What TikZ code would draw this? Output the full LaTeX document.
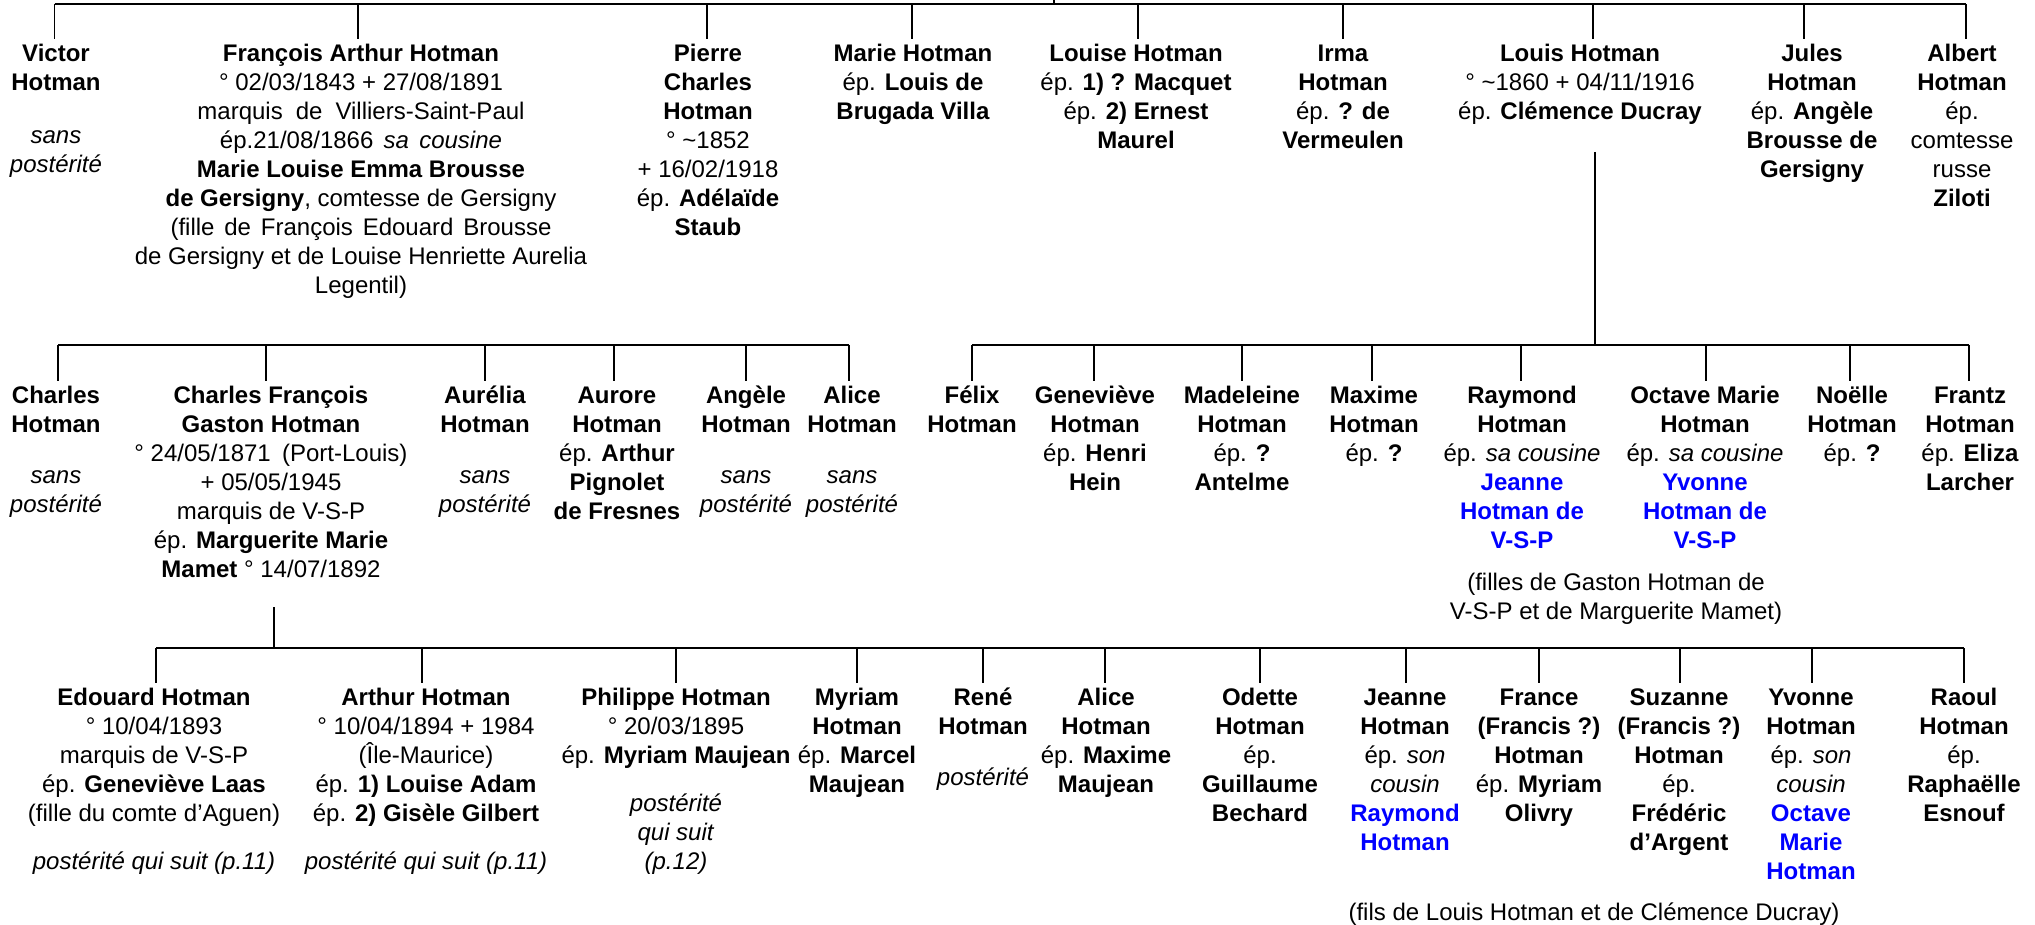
\documentclass[tikz,border=0pt]{standalone}
\usepackage{fontspec}
\setmainfont{Liberation Sans}
\definecolor{vblue}{RGB}{0,0,255}
\newcommand{\bl}[1]{\textcolor{vblue}{\textbf{#1}}}
\newcommand{\wsp}[1]{\hspace*{#1}}
\begin{document}
\begin{tikzpicture}[x=0.5pt,y=-0.5pt,
  pers/.style={align=center, anchor=north, inner xsep=0pt, inner ysep=1pt, outer sep=0pt, font=\fontsize{12}{14.5}\selectfont},
  barline/.style={line width=1.35pt},
  dropline/.style={line width=0.9pt}]
\useasboundingbox (0,0) rectangle (2035,925);

% ---------- Row 1 ----------
\node[pers] (r1a) at (56,39) {\strut\textbf{Victor}\\\textbf{Hotman}\\[12pt]\textit{sans}\\\textit{postérité}};
\node[pers] (r1b) at (361,39) {\strut\textbf{François Arthur Hotman}\\° 02/03/1843 + 27/08/1891\\marquis \wsp{3.2pt}de \wsp{3.2pt}Villiers-Saint-Paul\\ép.21/08/1866 \wsp{1.8pt}\textit{sa \wsp{1.8pt}cousine}\\\textbf{Marie Louise Emma Brousse}\\\textbf{de Gersigny}, comtesse de Gersigny\\(fille \wsp{1.6pt}de \wsp{1.6pt}François \wsp{1.6pt}Edouard \wsp{1.6pt}Brousse\\de Gersigny et de Louise Henriette Aurelia\\Legentil)};
\node[pers] (r1c) at (708,39) {\strut\textbf{Pierre}\\\textbf{Charles}\\\textbf{Hotman}\\° \textasciitilde1852\\+ 16/02/1918\\ép. \textbf{Adélaïde}\\\textbf{Staub}};
\node[pers] (r1d) at (913,39) {\strut\textbf{Marie Hotman}\\ép. \textbf{Louis de}\\\textbf{Brugada Villa}};
\node[pers] (r1e) at (1136,39) {\strut\textbf{Louise Hotman}\\ép. \textbf{1) ? Macquet}\\ép. \textbf{2) Ernest}\\\textbf{Maurel}};
\node[pers] (r1f) at (1343,39) {\strut\textbf{Irma}\\\textbf{Hotman}\\ép. \textbf{? de}\\\textbf{Vermeulen}};
\node[pers] (r1g) at (1580,39) {\strut\textbf{Louis Hotman}\\° \textasciitilde1860 + 04/11/1916\\ép. \textbf{Clémence Ducray}};
\node[pers] (r1h) at (1812,39) {\strut\textbf{Jules}\\\textbf{Hotman}\\ép. \textbf{Angèle}\\\textbf{Brousse de}\\\textbf{Gersigny}};
\node[pers] (r1i) at (1962,39) {\strut\textbf{Albert}\\\textbf{Hotman}\\ép.\\comtesse\\russe\\\textbf{Ziloti}};

\foreach \n/\x in {a/54.5,b/358,c/707,d/912,e/1138,f/1343,g/1593,h/1804,i/1966}
  \coordinate (b1\n) at (\x,4);
\coordinate (topt) at (1054,0);
\coordinate (topb) at (1054,4);
\draw[barline] (b1a) -- (b1i);
\draw[dropline] (topt) -- (topb);
\foreach \n in {a,b,c,d,e,f,g,h,i}
  \draw[dropline] (b1\n) -- (b1\n |- r1\n.north);

% ---------- Row 2 ----------
\node[pers] (r2a) at (56,381) {\strut\textbf{Charles}\\\textbf{Hotman}\\[11pt]\textit{sans}\\\textit{postérité}};
\node[pers] (r2b) at (271,381) {\strut\textbf{Charles François}\\\textbf{Gaston Hotman}\\° 24/05/1871 \wsp{2.3pt}(Port-Louis)\\+ 05/05/1945\\marquis de V-S-P\\ép. \textbf{Marguerite Marie}\\\textbf{Mamet} ° 14/07/1892};
\node[pers] (r2c) at (485,381) {\strut\textbf{Aurélia}\\\textbf{Hotman}\\[11pt]\textit{sans}\\\textit{postérité}};
\node[pers] (r2d) at (617,381) {\strut\textbf{Aurore}\\\textbf{Hotman}\\ép. \textbf{Arthur}\\\textbf{Pignolet}\\\textbf{de Fresnes}};
\node[pers] (r2e) at (746,381) {\strut\textbf{Angèle}\\\textbf{Hotman}\\[11pt]\textit{sans}\\\textit{postérité}};
\node[pers] (r2f) at (852,381) {\strut\textbf{Alice}\\\textbf{Hotman}\\[11pt]\textit{sans}\\\textit{postérité}};
\node[pers] (r2g) at (972,381) {\strut\textbf{Félix}\\\textbf{Hotman}};
\node[pers] (r2h) at (1095,381) {\strut\textbf{Geneviève}\\\textbf{Hotman}\\ép. \textbf{Henri}\\\textbf{Hein}};
\node[pers] (r2i) at (1242,381) {\strut\textbf{Madeleine}\\\textbf{Hotman}\\ép. \textbf{?}\\\textbf{Antelme}};
\node[pers] (r2j) at (1374,381) {\strut\textbf{Maxime}\\\textbf{Hotman}\\ép. \textbf{?}};
\node[pers] (r2k) at (1522,381) {\strut\textbf{Raymond}\\\textbf{Hotman}\\ép. \textit{sa cousine}\\\bl{Jeanne}\\\bl{Hotman de}\\\bl{V-S-P}};
\node[pers] (r2l) at (1705,381) {\strut\textbf{Octave Marie}\\\textbf{Hotman}\\ép. \textit{sa cousine}\\\bl{Yvonne}\\\bl{Hotman de}\\\bl{V-S-P}};
\node[pers] (r2m) at (1852,381) {\strut\textbf{Noëlle}\\\textbf{Hotman}\\ép. \textbf{?}};
\node[pers] (r2n) at (1970,381) {\strut\textbf{Frantz}\\\textbf{Hotman}\\ép. \textbf{Eliza}\\\textbf{Larcher}};
\node[pers] (note2) at (1616,568) {\strut(filles de Gaston Hotman de\\V-S-P et de Marguerite Mamet)};

\foreach \n/\x in {a/58,b/266,c/485,d/614,e/746,f/849,g/972,h/1094,i/1242,j/1372,k/1521,l/1706,m/1850,n/1969}
  \coordinate (b2\n) at (\x,345);
\coordinate (lvt) at (1595,152);
\coordinate (lvb) at (1595,345);
\draw[barline] (b2a) -- (b2f);
\draw[barline] (b2g) -- (b2n);
\draw[dropline] (lvt) -- (lvb);
\foreach \n in {a,b,c,d,e,f,g,h,i,j,k,l,m,n}
  \draw[dropline] (b2\n) -- (b2\n |- r2\n.north);

% ---------- Row 3 ----------
\node[pers] (r3a) at (154,683) {\strut\textbf{Edouard Hotman}\\° 10/04/1893\\marquis de V-S-P\\ép. \textbf{Geneviève Laas}\\(fille du comte d’Aguen)\\[9.7pt]\textit{postérité qui suit (p.11)}};
\node[pers] (r3b) at (426,683) {\strut\textbf{Arthur Hotman}\\° 10/04/1894 + 1984\\(Île-Maurice)\\ép. \textbf{1) Louise Adam}\\ép. \textbf{2) Gisèle Gilbert}\\[9.7pt]\textit{postérité qui suit (p.11)}};
\node[pers] (r3c) at (676,683) {\strut\textbf{Philippe Hotman}\\° 20/03/1895\\ép. \textbf{Myriam Maujean}\\[9.7pt]\textit{postérité}\\\textit{qui suit}\\\textit{(p.12)}};
\node[pers] (r3d) at (857,683) {\strut\textbf{Myriam}\\\textbf{Hotman}\\ép. \textbf{Marcel}\\\textbf{Maujean}};
\node[pers] (r3e) at (983,683) {\strut\textbf{René}\\\textbf{Hotman}\\[11pt]\textit{postérité}};
\node[pers] (r3f) at (1106,683) {\strut\textbf{Alice}\\\textbf{Hotman}\\ép. \textbf{Maxime}\\\textbf{Maujean}};
\node[pers] (r3g) at (1260,683) {\strut\textbf{Odette}\\\textbf{Hotman}\\ép.\\\textbf{Guillaume}\\\textbf{Bechard}};
\node[pers] (r3h) at (1405,683) {\strut\textbf{Jeanne}\\\textbf{Hotman}\\ép. \textit{son}\\\textit{cousin}\\\bl{Raymond}\\\bl{Hotman}};
\node[pers] (r3i) at (1539,683) {\strut\textbf{France}\\\textbf{(Francis ?)}\\\textbf{Hotman}\\ép. \textbf{Myriam}\\\textbf{Olivry}};
\node[pers] (r3j) at (1679,683) {\strut\textbf{Suzanne}\\\textbf{(Francis ?)}\\\textbf{Hotman}\\ép.\\\textbf{Frédéric}\\\textbf{d’Argent}};
\node[pers] (r3k) at (1811,683) {\strut\textbf{Yvonne}\\\textbf{Hotman}\\ép. \textit{son}\\\textit{cousin}\\\bl{Octave}\\\bl{Marie}\\\bl{Hotman}};
\node[pers] (r3l) at (1964,683) {\strut\textbf{Raoul}\\\textbf{Hotman}\\ép.\\\textbf{Raphaëlle}\\\textbf{Esnouf}};
\node[pers] (note3) at (1594,898) {\strut(fils de Louis Hotman et de Clémence Ducray)};

\foreach \n/\x in {a/156,b/422,c/676,d/857,e/983,f/1105,g/1260,h/1406,i/1539,j/1680,k/1812,l/1964}
  \coordinate (b3\n) at (\x,648);
\coordinate (gvt) at (274,607);
\coordinate (gvb) at (274,648);
\draw[barline] (b3a) -- (b3l);
\draw[dropline] (gvt) -- (gvb);
\foreach \n in {a,b,c,d,e,f,g,h,i,j,k,l}
  \draw[dropline] (b3\n) -- (b3\n |- r3\n.north);
\end{tikzpicture}
\end{document}
